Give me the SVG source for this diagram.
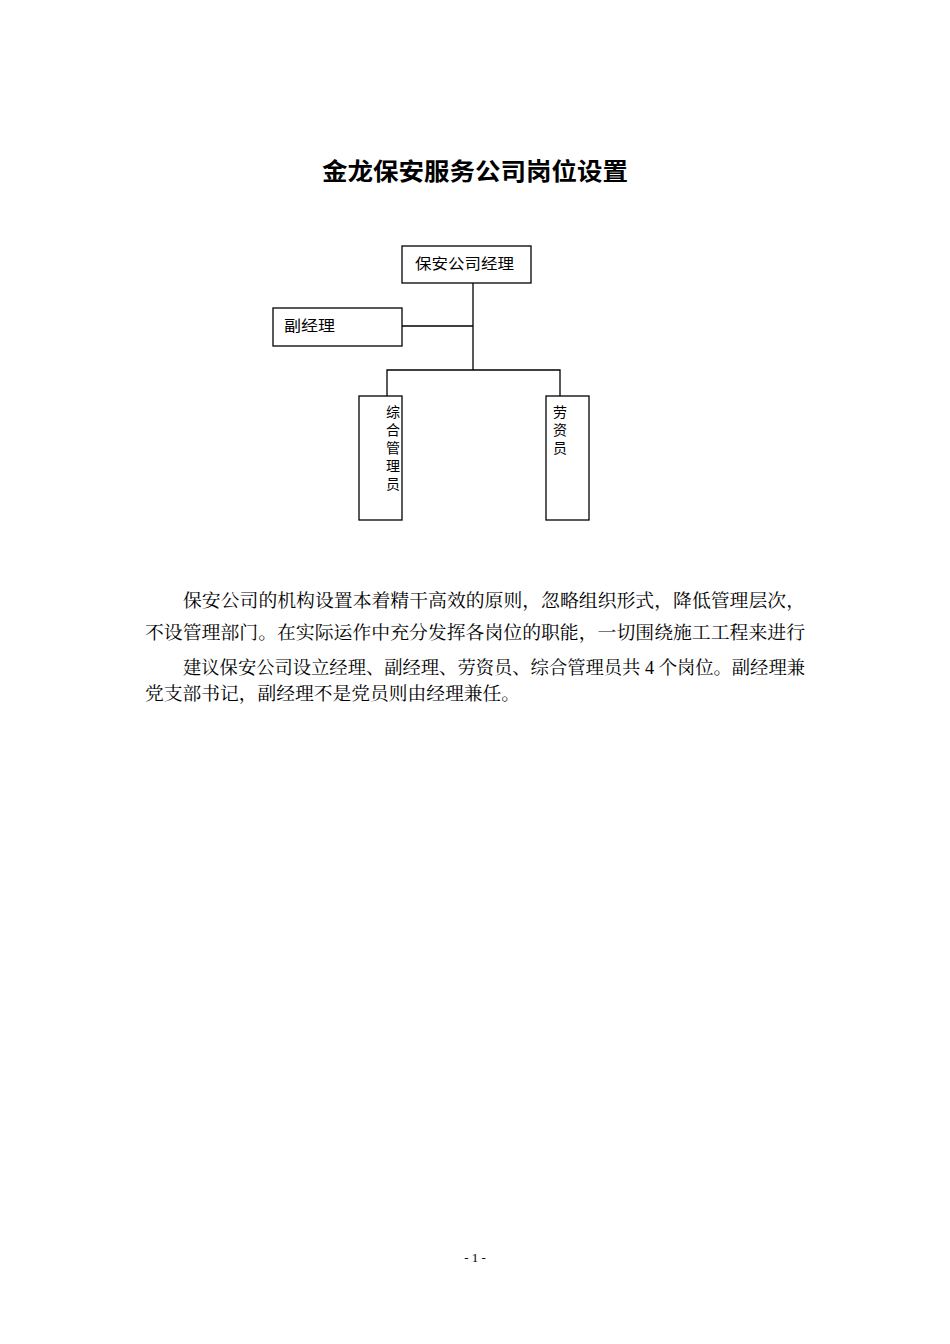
<svg xmlns="http://www.w3.org/2000/svg" width="950" height="1344" viewBox="0 0 950 1344">
<style>
.b{fill:#fff;stroke:#000;stroke-width:1.3}
.l{stroke:#000;stroke-width:1.3;fill:none}
.t{font-family:"Noto Sans CJK SC",sans-serif;font-size:15px;fill:#000}
.v{font-family:"Noto Sans CJK SC",sans-serif;font-size:14px;fill:#000}
.p{font-family:"Liberation Serif","Noto Serif CJK SC","Noto Sans CJK SC",serif;font-size:18px;fill:#000}
</style>
<rect width="950" height="1344" fill="#fff"/>
<text x="475" y="180" text-anchor="middle" textLength="306" lengthAdjust="spacingAndGlyphs" style="font-family:'Noto Sans CJK SC',sans-serif;font-size:24px;font-weight:bold">金龙保安服务公司岗位设置</text>
<g id="connectors">
<path class="l" d="M473 283V370M402 326H473M387 396V370H560V396"/>
</g>
<g id="n1"><rect class="b" x="402" y="246" width="129" height="37"/><text class="t" x="415" y="269" textLength="99" lengthAdjust="spacingAndGlyphs">保安公司经理</text></g>
<g id="n2"><rect class="b" x="273" y="308" width="129" height="38"/><text class="t" x="284" y="331" textLength="51" lengthAdjust="spacingAndGlyphs">副经理</text></g>
<g id="n3"><rect class="b" x="359" y="396" width="43" height="124"/>
<text class="v" x="393" y="417" text-anchor="middle">综</text><text class="v" x="393" y="435" text-anchor="middle">合</text><text class="v" x="393" y="453" text-anchor="middle">管</text><text class="v" x="393" y="471" text-anchor="middle">理</text><text class="v" x="393" y="489" text-anchor="middle">员</text></g>
<g id="n4"><rect class="b" x="546" y="396" width="43" height="124"/>
<text class="v" x="560" y="417" text-anchor="middle">劳</text><text class="v" x="560" y="435" text-anchor="middle">资</text><text class="v" x="560" y="453" text-anchor="middle">员</text></g>
<text class="p" x="183" y="607" textLength="622" lengthAdjust="spacingAndGlyphs">保安公司的机构设置本着精干高效的原则，忽略组织形式，降低管理层次，</text>
<text class="p" x="145" y="639" textLength="660" lengthAdjust="spacingAndGlyphs">不设管理部门。在实际运作中充分发挥各岗位的职能，一切围绕施工工程来进行</text>
<text class="p" x="183" y="674" textLength="622" lengthAdjust="spacingAndGlyphs">建议保安公司设立经理、副经理、劳资员、综合管理员共 4 个岗位。副经理兼</text>
<text class="p" x="145" y="700" textLength="375" lengthAdjust="spacingAndGlyphs">党支部书记，副经理不是党员则由经理兼任。</text>
<text x="475" y="1262" text-anchor="middle" style="font-family:'Liberation Serif',serif;font-size:13px">- 1 -</text>
</svg>
